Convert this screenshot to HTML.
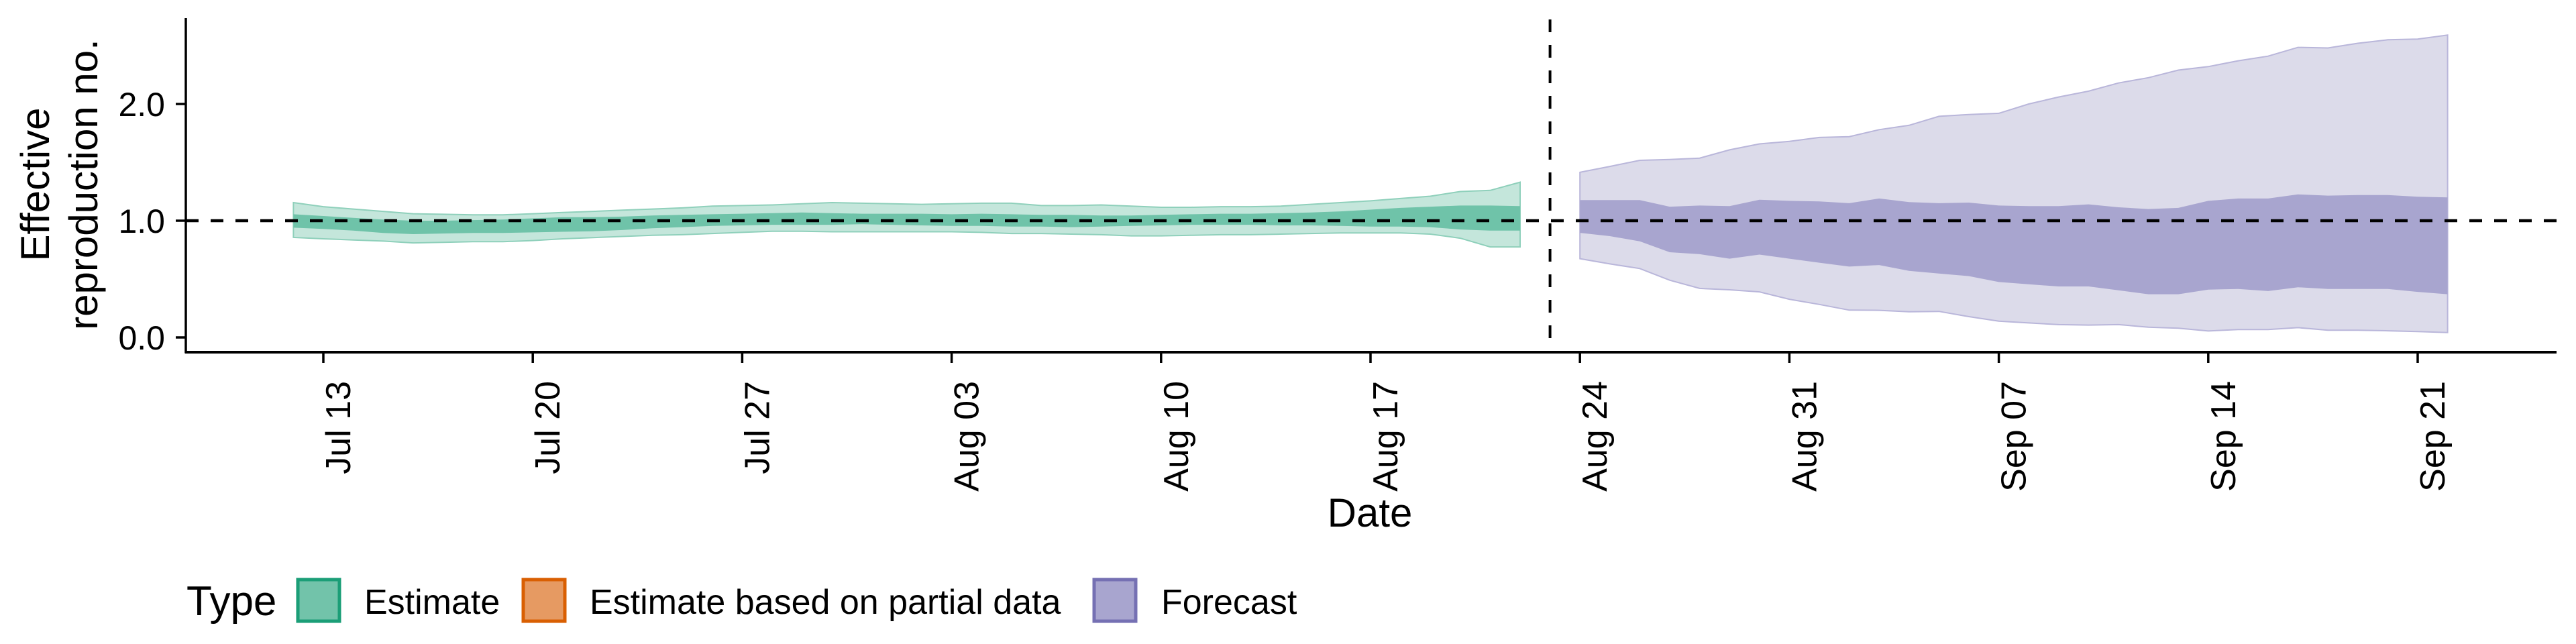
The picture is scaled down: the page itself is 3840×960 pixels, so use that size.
<!DOCTYPE html>
<html><head><meta charset="utf-8"><style>
html,body{margin:0;padding:0;background:#fff;}
svg{display:block;font-family:"Liberation Sans",sans-serif;}
</style></head><body>
<svg id="chart" width="3840" height="960" viewBox="0 0 3840 960" xmlns="http://www.w3.org/2000/svg">
<g id="bands"></g>
<g id="axes"></g>
<text transform="translate(73,275) rotate(-90)" text-anchor="middle" font-size="60"><tspan x="0" dy="0">Effective</tspan><tspan x="0" dy="72">reproduction no.</tspan></text>
<text x="2042" y="785" text-anchor="middle" font-size="60">Date</text>
<g>
<text x="278" y="917" font-size="62">Type</text>
<rect x="444" y="864" width="62" height="62" fill="#72c3aa" stroke="#1b9e77" stroke-width="5"/>
<text x="543" y="915" font-size="52">Estimate</text>
<rect x="780" y="864" width="62" height="62" fill="#e69a62" stroke="#d95f02" stroke-width="5"/>
<text x="879" y="915" font-size="52">Estimate based on partial data</text>
<rect x="1631" y="864" width="62" height="62" fill="#a8a5cf" stroke="#7570b3" stroke-width="5"/>
<text x="1731" y="915" font-size="52">Forecast</text>
</g>
</svg>
<script>
// Day offsets are relative to Jul 13
const estStart = -1; // Jul 12
const estOuterUpper = [1.155,1.12,1.10,1.08,1.06,1.055,1.05,1.05,1.06,1.07,1.08,1.09,1.10,1.11,1.125,1.13,1.135,1.145,1.155,1.15,1.145,1.14,1.145,1.15,1.15,1.13,1.13,1.135,1.125,1.115,1.115,1.12,1.12,1.125,1.14,1.155,1.17,1.19,1.21,1.25,1.26,1.33];
const estOuterLower = [0.857,0.845,0.835,0.825,0.81,0.815,0.82,0.82,0.83,0.845,0.855,0.865,0.875,0.88,0.89,0.9,0.91,0.91,0.905,0.905,0.905,0.905,0.905,0.9,0.89,0.89,0.885,0.88,0.87,0.87,0.875,0.88,0.88,0.885,0.89,0.895,0.895,0.895,0.885,0.85,0.775,0.775];
const estInnerUpper = [1.055,1.04,1.025,1.01,1.0,1.0,1.005,1.01,1.02,1.03,1.03,1.035,1.045,1.05,1.055,1.06,1.065,1.07,1.065,1.06,1.06,1.06,1.055,1.06,1.055,1.05,1.05,1.045,1.045,1.05,1.055,1.06,1.06,1.065,1.07,1.08,1.095,1.11,1.12,1.13,1.13,1.125];
const estInnerLower = [0.94,0.93,0.915,0.895,0.885,0.89,0.895,0.895,0.9,0.905,0.91,0.92,0.935,0.945,0.955,0.96,0.965,0.965,0.965,0.97,0.965,0.96,0.955,0.955,0.95,0.95,0.945,0.95,0.955,0.96,0.965,0.965,0.965,0.96,0.96,0.955,0.95,0.95,0.945,0.925,0.915,0.915];
const fcStart = 42; // Aug 24
const fcOuterUpper = [1.415,1.465,1.517,1.525,1.536,1.607,1.658,1.68,1.713,1.72,1.78,1.817,1.894,1.91,1.92,2.0,2.06,2.11,2.18,2.225,2.29,2.32,2.37,2.41,2.485,2.48,2.52,2.55,2.556,2.59];
const fcInnerUpper = [1.177,1.177,1.177,1.12,1.13,1.125,1.18,1.17,1.165,1.15,1.19,1.16,1.15,1.155,1.13,1.125,1.125,1.14,1.115,1.10,1.11,1.17,1.19,1.19,1.225,1.215,1.22,1.22,1.205,1.2];
const fcInnerLower = [0.896,0.868,0.823,0.73,0.713,0.675,0.71,0.675,0.64,0.607,0.62,0.57,0.547,0.525,0.475,0.455,0.437,0.437,0.404,0.37,0.37,0.41,0.415,0.397,0.43,0.415,0.415,0.415,0.39,0.37];
const fcOuterLower = [0.675,0.63,0.59,0.49,0.42,0.408,0.39,0.327,0.283,0.234,0.232,0.22,0.223,0.178,0.139,0.124,0.11,0.106,0.11,0.088,0.079,0.055,0.068,0.068,0.084,0.062,0.062,0.057,0.05,0.042];
const xTickLabels = ["Jul 13","Jul 20","Jul 27","Aug 03","Aug 10","Aug 17","Aug 24","Aug 31","Sep 07","Sep 14","Sep 21"];
const xTickDays = [0,7,14,21,28,35,42,49,56,63,70];
const yTickValues = [0,1,2];
const yTickLabels = ["0.0","1.0","2.0"];
const refValue = 1;
const forecastDateDay = 41; // Aug 23

const NS = "http://www.w3.org/2000/svg";
const X0 = 482, PXDAY = 44.6;
const Y1 = 329, PXUNIT = 174;
function xs(d){ return X0 + d*PXDAY; }
function ys(v){ return Y1 - (v-1)*PXUNIT; }
function mk(tag, attrs, parent){
  const el = document.createElementNS(NS, tag);
  for (const k in attrs) el.setAttribute(k, attrs[k]);
  parent.appendChild(el); return el;
}
const bands = document.getElementById('bands');
const axes = document.getElementById('axes');
function band(start, up, lo, fill, stroke, name){
  let d = "";
  up.forEach((v,i)=>{ d += (i?"L":"M") + xs(start+i).toFixed(1) + "," + ys(v).toFixed(1); });
  for (let i=lo.length-1;i>=0;i--) d += "L" + xs(start+i).toFixed(1) + "," + ys(lo[i]).toFixed(1);
  d += "Z";
  const p = mk('path', {d:d, fill:fill, stroke:stroke, 'stroke-width':2}, bands);
  
  
}
band(estStart, estOuterUpper, estOuterLower, "#c4e6db", "#8fd0bb", "estimate-outer-band");
band(estStart, estInnerUpper, estInnerLower, "#6fc3a9", "none", "estimate-inner-band");
band(fcStart, fcOuterUpper, fcOuterLower, "#dcdbea", "#b9b6da", "forecast-outer-band");
band(fcStart, fcInnerUpper, fcInnerLower, "#a8a5cf", "none", "forecast-inner-band");

// reference line
const ref = mk('line', {x1:277, x2:3811, y1:ys(refValue), y2:ys(refValue), stroke:"#000", 'stroke-width':4.5, 'stroke-dasharray':"19 18"}, axes);


const vl = mk('line', {x1:xs(forecastDateDay), x2:xs(forecastDateDay), y1:29, y2:525, stroke:"#000", 'stroke-width':4, 'stroke-dasharray':"19 19"}, axes);



// axes lines
const ya = mk('line', {x1:277, x2:277, y1:27, y2:526, stroke:"#000", 'stroke-width':3.5}, axes);


const xa = mk('line', {x1:275.5, x2:3811, y1:525, y2:525, stroke:"#000", 'stroke-width':4}, axes);



yTickValues.forEach((v,i)=>{
  const t = mk('line', {x1:262, x2:277, y1:ys(v), y2:ys(v), stroke:"#000", 'stroke-width':3.5}, axes);
  
  
  const tx = mk('text', {x:246, y:ys(v)+18, 'text-anchor':'end', 'font-size':50, fill:"#000"}, axes);
  
  
  tx.textContent = yTickLabels[i];
});
xTickDays.forEach((d,i)=>{
  const x = xs(d);
  const t = mk('line', {x1:x, x2:x, y1:526, y2:541, stroke:"#000", 'stroke-width':3.5}, axes);
  
  
  const tx = mk('text', {transform:`translate(${(x+40).toFixed(1)},568) rotate(-90)`, 'text-anchor':'end', 'font-size':52, fill:"#000"}, axes);
  
  
  tx.textContent = xTickLabels[i];
});
</script>
</body></html>
